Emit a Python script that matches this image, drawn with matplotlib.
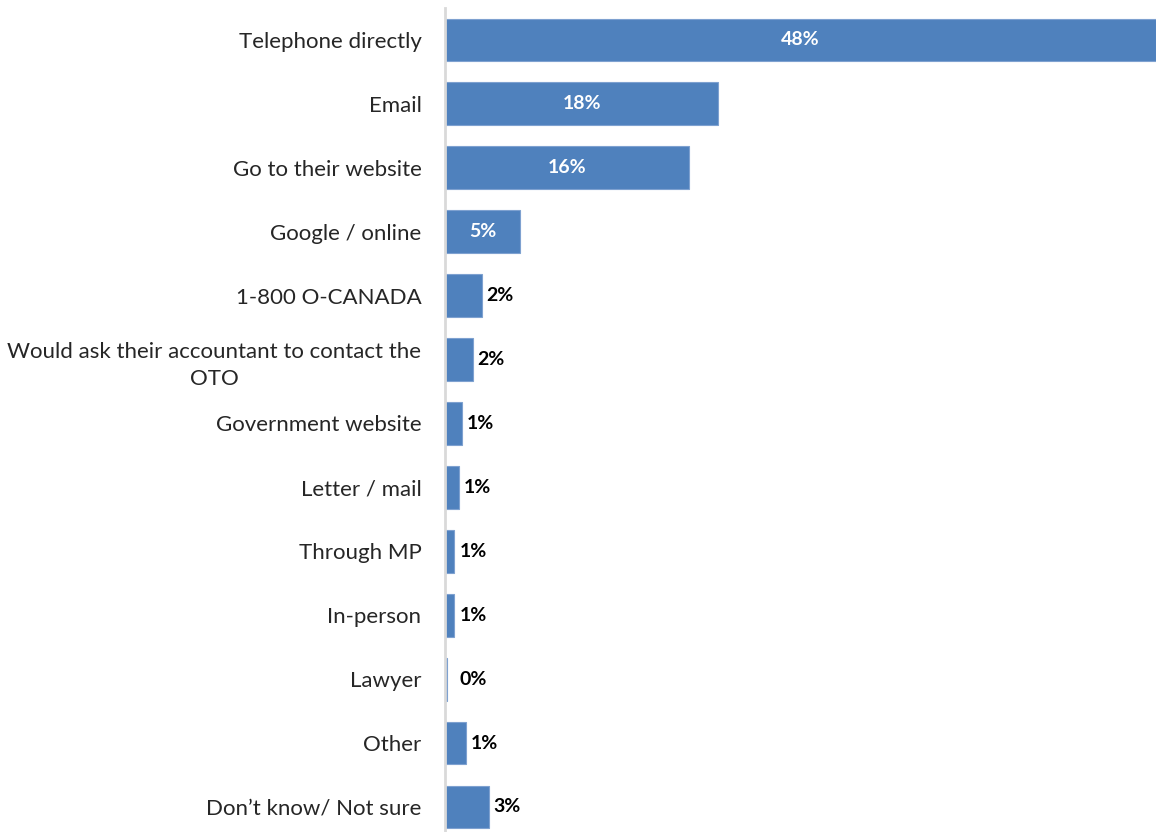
import matplotlib.pyplot as plt

categories = [
    "Telephone directly",
    "Email",
    "Go to their website",
    "Google / online",
    "1-800 O-CANADA",
    "Would ask their accountant to contact the\nOTO",
    "Government website",
    "Letter / mail",
    "Through MP",
    "In-person",
    "Lawyer",
    "Other",
    "Don\u2019t know/ Not sure",
]
shares = [48.1, 18.5, 16.5, 5.1, 2.5, 1.9, 1.15, 0.95, 0.6, 0.6, 0.13, 1.45, 3.0]

plt.rcParams["font.family"] = ["Lato", "DejaVu Sans"]

fig = plt.figure(figsize=(11.56, 8.32), dpi=100)
ax = fig.add_axes([445 / 1156, 0, 1 - 445 / 1156, 824 / 832])

pos = list(range(len(categories)))
ax.barh(pos, shares, height=0.67, color="#4F81BD", edgecolor="#7EA1D0", linewidth=0.8)

for y, v in zip(pos, shares):
    label = f"{v:.0f}%"
    if v > 4:
        ax.text(v / 2, y, label, ha="center", va="center", color="white",
                fontsize=14, fontweight="bold")
    else:
        ax.text(max(v + 0.3, 1.0), y, label, ha="left", va="center", color="black",
                fontsize=14, fontweight="bold")

ax.set_xlim(0, 48.1)
ax.set_ylim(12 + 25 / 63.9, -0.5)
ax.set_yticks(pos)
ax.set_yticklabels(categories, fontsize=16, color="#262626", ha="right")
for lbl in ax.get_yticklabels():
    lbl.set_multialignment("center")
    lbl.set_linespacing(1.45)
ax.tick_params(axis="y", length=0, pad=17)
ax.set_xticks([])
for side in ("top", "right", "bottom"):
    ax.spines[side].set_visible(False)
ax.spines["left"].set_color("#D9D9D9")
ax.spines["left"].set_linewidth(2)

fig.savefig("out.png", dpi=100)
